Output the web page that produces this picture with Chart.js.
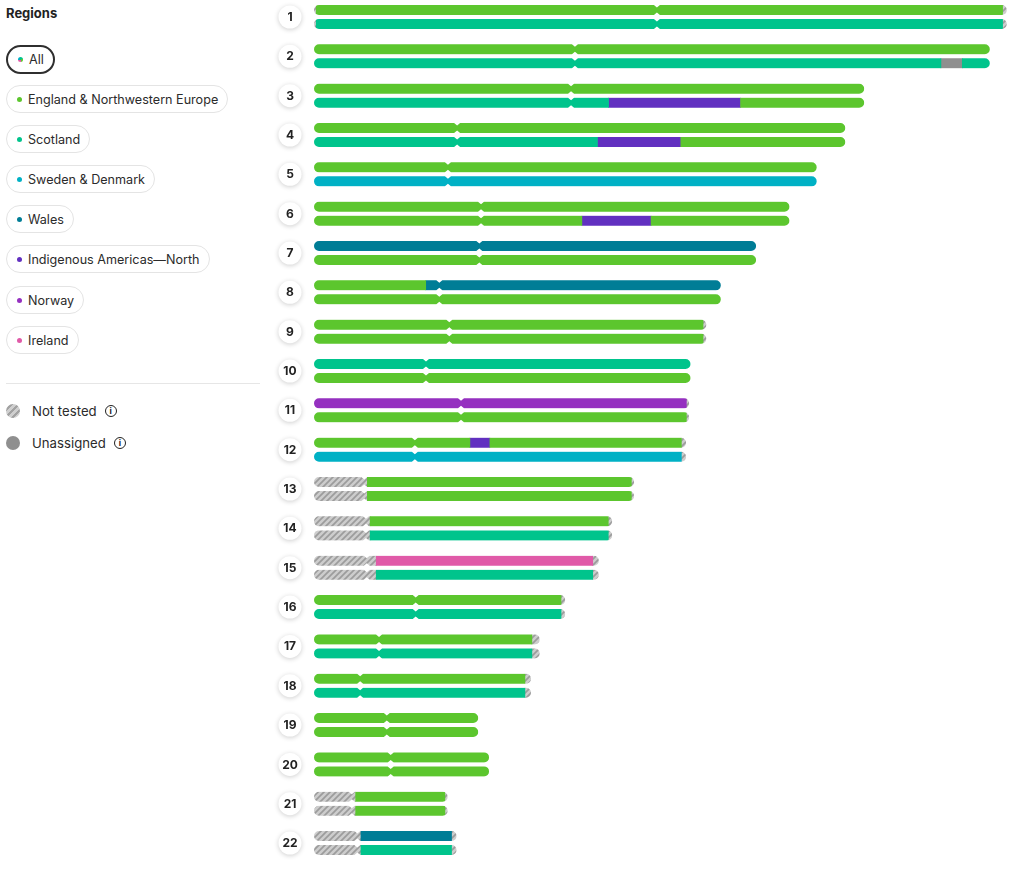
<!DOCTYPE html>
<html>
<head>
<meta charset="utf-8">
<title>Chromosome painting</title>
<script src="https://cdn.jsdelivr.net/npm/chart.js@4.4.1/dist/chart.umd.min.js"></script>
<style>
  html, body { margin: 0; padding: 0; background: #fff; }
  body { width: 1024px; height: 871px; position: relative; overflow: hidden; font-family: Inter, "Noto Sans", sans-serif; color: #2b2b2b; }
  #legend { position: absolute; left: 0; top: 0; width: 270px; height: 871px; }
  #legend h3 { position: absolute; left: 6px; top: 5px; margin: 0; font-size: 13px; font-weight: 700; color: #222; }
  .pill { position: absolute; left: 6px; height: 26px; box-sizing: content-box; border: 1.5px solid #e4e4e4; border-radius: 15px; padding: 0 9px 0 10px; display: flex; align-items: center; font-size: 12.6px; white-space: nowrap; }
  .pill.active { border: 2px solid #2f2f2f; height: 25px; }
  .dot { width: 5px; height: 5px; border-radius: 50%; margin-right: 6px; flex: none; }
  .divider { position: absolute; left: 6px; top: 383px; width: 254px; height: 1px; background: #e6e6e6; }
  .key { position: absolute; left: 6px; display: flex; align-items: center; font-size: 13.2px; }
  .swatch { width: 14px; height: 14px; border-radius: 50%; margin-right: 12px; flex: none; }
  .info { width: 10px; height: 10px; border: 1.5px solid #222; border-radius: 50%; margin-left: 8px; font-size: 8.5px; font-weight: 700; line-height: 10px; text-align: center; color: #222; }
  #chartBox { position: absolute; left: 270px; top: 0; width: 754px; height: 871px; }
</style>
</head>
<body>
<div id="legend">
  <h3>Regions</h3>
  <div class="pill active" style="top:45px"><span class="dot" style="background:conic-gradient(#00c48c 0 25%, #5cc62e 0 50%, #e05aa8 0 75%, #00b1c5 0)"></span>All</div>
  <div class="pill" style="top:85px"><span class="dot" style="background:#5cc62e"></span>England &amp; Northwestern Europe</div>
  <div class="pill" style="top:125px"><span class="dot" style="background:#00c48c"></span>Scotland</div>
  <div class="pill" style="top:165px"><span class="dot" style="background:#00b1c5"></span>Sweden &amp; Denmark</div>
  <div class="pill" style="top:205px"><span class="dot" style="background:#007d96"></span>Wales</div>
  <div class="pill" style="top:245px"><span class="dot" style="background:#6130c0"></span>Indigenous Americas—North</div>
  <div class="pill" style="top:286px"><span class="dot" style="background:#9530c0"></span>Norway</div>
  <div class="pill" style="top:326px"><span class="dot" style="background:#e05aa8"></span>Ireland</div>
  <div class="divider"></div>
  <div class="key" style="top:403px"><span class="swatch" style="background:repeating-linear-gradient(135deg,#cfcfcf 0 3px,#a2a2a2 3px 5px)"></span>Not tested<span class="info">i</span></div>
  <div class="key" style="top:435px"><span class="swatch" style="background:#8f8f8f"></span>Unassigned<span class="info">i</span></div>
</div>
<div id="chartBox"><canvas id="chromosomes"></canvas></div>

<script>
// chromosome sizes in Mb
const chromosomes = ['1','2','3','4','5','6','7','8','9','10','11','12','13','14','15','16','17','18','19','20','21','22'];
const lengths = [249.3, 243.2, 198.0, 191.2, 180.9, 171.1, 159.1, 146.4, 141.2, 135.5, 135.0, 133.9, 115.2, 107.3, 102.5, 90.4, 81.2, 78.1, 59.1, 63.0, 48.1, 51.3];
const centromeres = [123.4, 93.9, 92.5, 51.5, 48.2, 60.1, 59.5, 45.1, 48.7, 40.3, 52.9, 36.3, 18.1, 18.7, 19.0, 36.6, 23.4, 16.6, 26.2, 27.6, 13.6, 15.6];

// segments: [chromosome, copy (0 = top, 1 = bottom), start Mb, end Mb]
const england = [
  [1,0,0.8,247.8], [2,0,0,243.2], [3,0,0,198.0], [3,1,153.5,198.0],
  [4,0,0,191.2], [4,1,132,191.2], [5,0,0,180.9], [6,0,0,171.1], [6,1,0,96.4], [6,1,121.3,171.1],
  [7,1,0,159.1], [8,0,0,40.2], [8,1,0,146.4], [9,0,0,140.0], [9,1,0,140.0],
  [10,1,0,135.5], [11,1,0,134.0], [12,0,0,56.1], [12,0,63.3,132.2],
  [13,0,19.2,114.2], [13,1,19.2,114.2], [14,0,20.2,105.9], [16,0,0,88.9], [17,0,0,78.4], [18,0,0,75.9],
  [19,0,0,59.1], [19,1,0,59.1], [20,0,0,63.0], [20,1,0,63.0], [21,0,15.0,47.1], [21,1,15.0,47.1]
];
const scotland = [
  [1,1,0.8,247.8], [2,1,0,225.6], [2,1,233.3,243.2], [3,1,0,106], [4,1,0,102],
  [10,0,0,135.5], [14,1,20.2,105.9], [15,1,22.4,100.3], [16,1,0,88.9], [17,1,0,78.4], [18,1,0,75.9], [22,1,16.9,49.5]
];
const swedenDenmark = [[5,1,0,180.9], [12,1,0,132.2]];
const wales = [[7,0,0,159.1], [8,0,40.2,146.4], [22,0,16.9,49.5]];
const indigenousNorth = [[3,1,106,153.5], [4,1,102,132], [6,1,96.4,121.3], [12,0,56.1,63.3]];
const norway = [[11,0,0,134.0]];
const ireland = [[15,0,22.4,100.3]];
const unassigned = [[2,1,225.6,233.3]];
const notTested = [
  [1,0,0,0.8], [1,0,247.8,249.3], [1,1,0,0.8], [1,1,247.8,249.3],
  [9,0,140.0,141.2], [9,1,140.0,141.2], [11,0,134.0,135.0], [11,1,134.0,135.0],
  [12,0,132.2,133.9], [12,1,132.2,133.9],
  [13,0,0,19.2], [13,1,0,19.2], [13,0,114.2,115.2], [13,1,114.2,115.2],
  [14,0,0,20.2], [14,1,0,20.2], [14,0,105.9,107.3], [14,1,105.9,107.3],
  [15,0,0,22.4], [15,1,0,22.4], [15,0,100.3,102.5], [15,1,100.3,102.5],
  [16,0,88.9,90.4], [16,1,88.9,90.4], [17,0,78.4,81.2], [17,1,78.4,81.2], [18,0,75.9,78.1], [18,1,75.9,78.1],
  [21,0,0,15.0], [21,1,0,15.0], [21,0,47.1,48.1], [21,1,47.1,48.1],
  [22,0,0,16.9], [22,1,0,16.9], [22,0,49.5,51.3], [22,1,49.5,51.3]
];

const copyOffset = 0.178; // two copies sit just above and below the row centre

function hatchPattern() {
  const c = document.createElement('canvas');
  c.width = 6; c.height = 6;
  const p = c.getContext('2d');
  p.fillStyle = '#cdcdcd';
  p.fillRect(0, 0, 6, 6);
  p.strokeStyle = '#9c9c9c';
  p.lineWidth = 1.7;
  p.beginPath();
  p.moveTo(-1, 7); p.lineTo(7, -1);
  p.moveTo(-4, 4); p.lineTo(4, -4);
  p.moveTo(2, 10); p.lineTo(10, 2);
  p.stroke();
  return p.createPattern(c, 'repeat');
}

function toPoints(segments) {
  return segments.map(s => ({ x: [s[2], s[3]], y: s[0] + (s[1] ? copyOffset : -copyOffset) }));
}

function region(label, segments, color) {
  return { label: label, data: toPoints(segments), backgroundColor: color, grouped: false, barThickness: 10, borderWidth: 0 };
}

// outline of one chromosome copy: rounded ends and a small pinch at the centromere
function traceCopy(ctx, x0, x1, xc, yc) {
  const h = 5, r = 5, w = 3, d = 2.5;
  ctx.moveTo(x0 + r, yc - h);
  ctx.lineTo(xc - w, yc - h);
  ctx.lineTo(xc, yc - h + d);
  ctx.lineTo(xc + w, yc - h);
  ctx.lineTo(x1 - r, yc - h);
  ctx.arc(x1 - r, yc, r, -Math.PI / 2, Math.PI / 2);
  ctx.lineTo(xc + w, yc + h);
  ctx.lineTo(xc, yc + h - d);
  ctx.lineTo(xc - w, yc + h);
  ctx.lineTo(x0 + r, yc + h);
  ctx.arc(x0 + r, yc, r, Math.PI / 2, Math.PI * 1.5);
  ctx.closePath();
}

const chromosomeShape = {
  id: 'chromosomeShape',
  beforeDatasetsDraw(chart) {
    const { ctx, scales: { x, y } } = chart;
    ctx.save();
    ctx.beginPath();
    chromosomes.forEach((c, i) => {
      [-copyOffset, copyOffset].forEach(off => {
        traceCopy(ctx, x.getPixelForValue(0), x.getPixelForValue(lengths[i]),
          x.getPixelForValue(centromeres[i]), y.getPixelForValue(i + 1 + off));
      });
    });
    ctx.clip();
  },
  afterDatasetsDraw(chart) {
    chart.ctx.restore();
  }
};

const rowLabels = {
  id: 'rowLabels',
  afterDraw(chart) {
    const { ctx, scales: { y } } = chart;
    ctx.save();
    chromosomes.forEach((c, i) => {
      const cy = y.getPixelForValue(i + 1);
      const cx = 20;
      ctx.shadowColor = 'rgba(0,0,0,0.2)';
      ctx.shadowBlur = 5;
      ctx.shadowOffsetY = 1;
      ctx.fillStyle = '#fff';
      ctx.beginPath();
      ctx.arc(cx, cy, 11.5, 0, Math.PI * 2);
      ctx.fill();
      ctx.shadowColor = 'transparent';
      ctx.fillStyle = '#222';
      ctx.font = 'bold 12px Inter, "Noto Sans", sans-serif';
      ctx.textAlign = 'center';
      ctx.textBaseline = 'middle';
      ctx.fillText(c, cx, cy + 0.5);
    });
    ctx.restore();
  }
};

new Chart(document.getElementById('chromosomes'), {
  type: 'bar',
  data: {
    datasets: [
      region('England & Northwestern Europe', england, '#5cc62e'),
      region('Scotland', scotland, '#00c48c'),
      region('Sweden & Denmark', swedenDenmark, '#00b1c5'),
      region('Wales', wales, '#007d96'),
      region('Indigenous Americas—North', indigenousNorth, '#6130c0'),
      region('Norway', norway, '#9530c0'),
      region('Ireland', ireland, '#e05aa8'),
      region('Unassigned', unassigned, '#8f8f8f'),
      region('Not tested', notTested, hatchPattern())
    ]
  },
  options: {
    indexAxis: 'y',
    responsive: true,
    maintainAspectRatio: false,
    animation: false,
    layout: { padding: { left: 44, right: 0, top: 0, bottom: 0 } },
    scales: {
      x: { type: 'linear', min: 0, max: 255.5, display: false },
      y: { type: 'linear', min: 0.568, max: 22.71, reverse: true, offset: false, display: false }
    },
    plugins: {
      legend: { display: false },
      tooltip: {
        callbacks: {
          title: items => 'Chromosome ' + Math.round(items[0].raw.y),
          label: item => item.dataset.label + ': ' + item.raw.x[0] + '–' + item.raw.x[1] + ' Mb'
        }
      }
    }
  },
  plugins: [chromosomeShape, rowLabels]
});
</script>
</body>
</html>
